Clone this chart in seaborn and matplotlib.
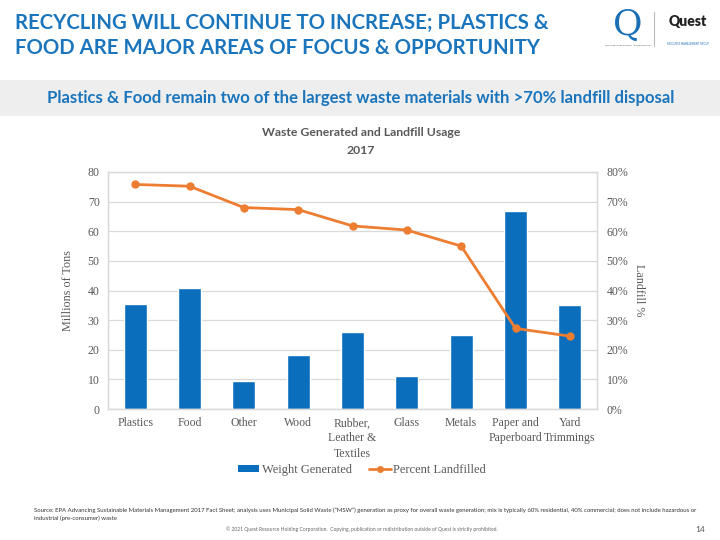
import matplotlib
matplotlib.use("Agg")
import matplotlib.pyplot as plt
import seaborn as sns
import pandas as pd
from matplotlib.patches import Rectangle
from matplotlib.lines import Line2D

categories = ["Plastics", "Food", "Other", "Wood", "Rubber, Leather & Textiles",
              "Glass", "Metals", "Paper and Paperboard", "Yard Trimmings"]
tick_labels = ["Plastics", "Food", "Other", "Wood", "Rubber,\nLeather &\nTextiles",
               "Glass", "Metals", "Paper and\nPaperboard", "Yard\nTrimmings"]
weight_generated = [35.4, 40.7, 9.3, 18.1, 26.0, 11.3, 25.0, 67.0, 35.2]
percent_landfilled = [75.8, 75.2, 68.0, 67.3, 61.8, 60.4, 55.0, 27.2, 24.6]
left_ticks = [0, 10, 20, 30, 40, 50, 60, 70, 80]
right_ticks = [0, 10, 20, 30, 40, 50, 60, 70, 80]

BLUE = "#0A6EBD"
ORANGE = "#ED7D31"
TITLE_BLUE = "#1B75BC"
GRAY_TXT = "#595959"
GRID = "#D9D9D9"

sns.set_theme(style="white")
plt.rcParams["font.family"] = ["Lato", "DejaVu Sans"]

df = pd.DataFrame({"category": categories, "weight": weight_generated,
                   "pct": percent_landfilled})

fig = plt.figure(figsize=(7.2, 5.4), dpi=100)
fig.patch.set_facecolor("white")

# header
fig.text(15 / 720, 1 - 23 / 540, "RECYCLING WILL CONTINUE TO INCREASE; PLASTICS &",
         fontsize=14.7, fontweight="bold", color=TITLE_BLUE, va="center", ha="left")
fig.text(15 / 720, 1 - 48 / 540, "FOOD ARE MAJOR AREAS OF FOCUS & OPPORTUNITY",
         fontsize=14.7, fontweight="bold", color=TITLE_BLUE, va="center", ha="left")

# logos (approximation)
fig.text(628 / 720, 1 - 25 / 540, "Q", fontsize=26, color="#1B6FB5",
         family=["DejaVu Serif"], ha="center", va="center")
fig.text(628 / 720, 1 - 45 / 540, "QUEST RESOURCE HOLDING CORPORATION", fontsize=1.6,
         color="#555555", ha="center", va="center")
fig.add_artist(Line2D([654 / 720, 654 / 720], [1 - 12 / 540, 1 - 46 / 540],
                      color="#BBBBBB", lw=0.8, transform=fig.transFigure))
fig.text(688 / 720, 1 - 22 / 540, "Quest", fontsize=10, fontweight="heavy", color="#222222",
         ha="center", va="center")
fig.text(688 / 720, 1 - 44 / 540, "RESOURCE MANAGEMENT GROUP", fontsize=1.8, color="#1B6FB5",
         ha="center", va="center")

# subtitle band
fig.add_artist(Rectangle((0, 1 - 116 / 540), 1, 36 / 540, transform=fig.transFigure,
                         facecolor="#EEEEEE", edgecolor="none", zorder=0))
fig.text(361 / 720, 1 - 98 / 540,
         "Plastics & Food remain two of the largest waste materials with >70% landfill disposal",
         fontsize=12.1, fontweight="bold", color=TITLE_BLUE, ha="center", va="center")

# main chart
ax = fig.add_axes([108 / 720, 1 - 409 / 540, (597 - 108) / 720, (409 - 172) / 540])
sns.barplot(data=df, x="category", y="weight", color=BLUE, saturation=1,
            width=0.42, ax=ax, zorder=2)
ax.set_ylim(0, 80)
ax.set_yticks(left_ticks)
ax.set_yticklabels([str(t) for t in left_ticks])
ax.yaxis.grid(True, color=GRID, lw=0.9, zorder=0)
ax.set_axisbelow(True)
for s in ax.spines.values():
    s.set_color(GRID)
    s.set_linewidth(0.9)

ax2 = ax.twinx()
sns.pointplot(data=df, x="category", y="pct", color=ORANGE, errorbar=None,
              markers="o", markersize=4.5, linewidth=2, ax=ax2)
ax2.set_ylim(0, 80)
ax2.set_yticks(right_ticks)
ax2.set_yticklabels([f"{t}%" for t in right_ticks])
for s in ax2.spines.values():
    s.set_color(GRID)
    s.set_linewidth(0.9)

ax.set_xlim(-0.5, len(categories) - 0.5)
ax.set_xticks(range(len(categories)))
ax.set_xticklabels(tick_labels)

serif = ["Liberation Serif", "DejaVu Serif"]
for a in (ax, ax2):
    a.tick_params(axis="both", length=0, labelsize=8.5, colors=GRAY_TXT, pad=6)
    for lab in a.get_xticklabels() + a.get_yticklabels():
        lab.set_family(serif)
        lab.set_linespacing(1.35)
ax.tick_params(axis="y", pad=6)
ax2.tick_params(axis="y", pad=7)

ax.set_xlabel("")
ax.set_ylabel("Millions of Tons", family=serif, fontsize=8.7, color=GRAY_TXT, labelpad=10)
ax2.set_xlabel("")
ax2.set_ylabel("Landfill %", family=serif, fontsize=8.7, color=GRAY_TXT, rotation=270,
               labelpad=12)

fig.text(361 / 720, 1 - 133 / 540, "Waste Generated and Landfill Usage", fontsize=8.8,
         fontweight="bold", color=GRAY_TXT, ha="center", va="center")
fig.text(361 / 720, 1 - 150 / 540, "2017", fontsize=8.8,
         fontweight="bold", color=GRAY_TXT, ha="center", va="center")

# legend
handles = [Rectangle((0, 0), 1, 1, facecolor=BLUE, edgecolor="none"),
           Line2D([0], [0], color=ORANGE, lw=2, marker="o", markersize=4)]
leg = fig.legend(handles, ["Weight Generated", "Percent Landfilled"], loc="center",
                 bbox_to_anchor=(362 / 720, 1 - 470 / 540), ncol=2, frameon=False,
                 handlelength=1.7, handleheight=0.55, handletextpad=0.2,
                 columnspacing=1.4, prop={"family": serif, "size": 9})
for t in leg.get_texts():
    t.set_color(GRAY_TXT)

# footer
fig.text(34 / 720, 1 - 510 / 540,
         "Source: EPA Advancing Sustainable Materials Management 2017 Fact Sheet; analysis uses Municipal Solid Waste (\u201cMSW\u201d) generation as proxy for overall waste generation; mix is typically 60% residential, 40% commercial; does not include hazardous or",
         fontsize=4.3, color="#333333", ha="left", va="center")
fig.text(34 / 720, 1 - 518 / 540, "industrial (pre-consumer) waste",
         fontsize=4.3, color="#333333", ha="left", va="center")
fig.text(362 / 720, 1 - 529 / 540,
         "\u00a9 2021 Quest Resource Holding Corporation.  Copying, publication or redistribution outside of Quest is strictly prohibited.",
         fontsize=3.6, color="#666666", ha="center", va="center")
fig.text(700 / 720, 1 - 529 / 540, "14", fontsize=6, color="#555555", ha="center",
         va="center")

fig.savefig("out.png", dpi=100, facecolor="white")
